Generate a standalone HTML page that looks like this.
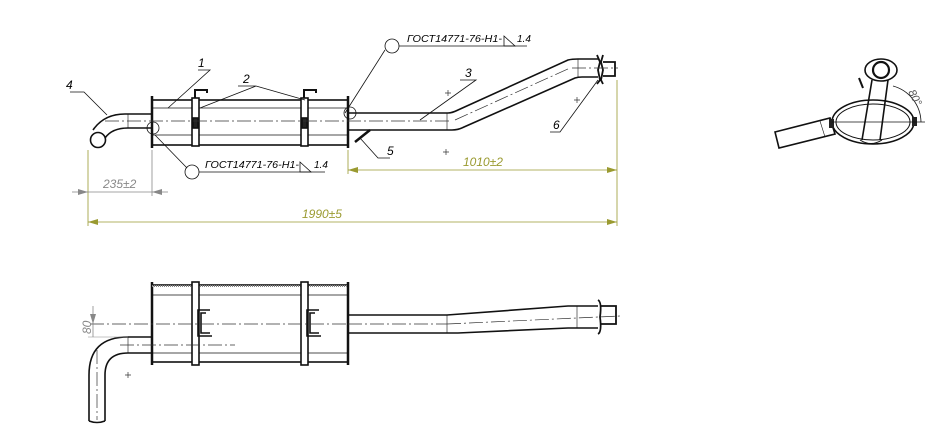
<!DOCTYPE html>
<html><head><style>html,body{margin:0;padding:0;background:#fff}svg{display:block}</style></head>
<body>
<svg width="952" height="439" viewBox="0 0 952 439" xmlns="http://www.w3.org/2000/svg" font-family="Liberation Sans, sans-serif">
<defs>
<marker id="ay" viewBox="0 0 10 6" refX="10" refY="3" markerWidth="10" markerHeight="6" orient="auto-start-reverse" markerUnits="userSpaceOnUse"><path d="M0 0 L10 3 L0 6 Z" fill="#9a9a30"/></marker>
<marker id="ag" viewBox="0 0 10 6" refX="10" refY="3" markerWidth="10" markerHeight="6" orient="auto-start-reverse" markerUnits="userSpaceOnUse"><path d="M0 0 L10 3 L0 6 Z" fill="#888"/></marker>
</defs>
<g fill="none" stroke="#111" stroke-width="1.6">
<!-- TOP VIEW muffler -->
<rect x="152" y="100" width="196" height="45"/>
<line x1="152" y1="96" x2="152" y2="148" stroke-width="2.5"/>
<line x1="348" y1="96" x2="348" y2="148" stroke-width="2.5"/>
<line x1="152" y1="108" x2="348" y2="108" stroke-width="0.8"/>
<line x1="152" y1="135" x2="348" y2="135" stroke-width="0.8"/>
<rect x="192" y="98" width="7" height="48" fill="#fff"/>
<rect x="301" y="98" width="7" height="48" fill="#fff"/>
<path d="M195 98 v-8 h12 v3" stroke-width="2"/>
<path d="M304 98 v-8 h12 v3" stroke-width="2"/>
<rect x="193" y="118" width="5" height="10" fill="#222"/>
<rect x="302" y="118" width="5" height="10" fill="#222"/>
<!-- pipe 4 -->
<path d="M152 114 H125 Q104 114 93 130"/>
<path d="M152 128 H128 Q112 128 105 138"/>
<line x1="128" y1="114" x2="128" y2="128" stroke-width="0.6"/>
<circle cx="98" cy="140" r="7.5"/>
<!-- pipe 3 -->
<path d="M348 113 H448 Q452 113 458 110 L568 60 Q572 59 578 59 H598"/>
<path d="M348 130 H452 Q458 130 464 127 L575 78 Q578 77 582 77 H598"/>
<line x1="447" y1="113" x2="447" y2="130" stroke-width="0.6"/>
<line x1="578" y1="59" x2="578" y2="77" stroke-width="0.6"/>
<path d="M597 55 L600 62 L598 70 L600 80 L597 84 M603 55 L601 62 L603 70 L601 80 L603 84" stroke-width="1.8"/>
<path d="M603 62 H615 V76 H603" stroke-width="1.8"/>
<line x1="355" y1="142" x2="370" y2="130" stroke-width="2.5"/>
<!-- BOTTOM VIEW -->
<rect x="152" y="285" width="196" height="77"/>
<line x1="152" y1="282" x2="152" y2="365" stroke-width="2.5"/>
<line x1="348" y1="282" x2="348" y2="365" stroke-width="2.5"/>
<line x1="152" y1="295" x2="348" y2="295" stroke-width="0.8"/>
<line x1="152" y1="353" x2="348" y2="353" stroke-width="0.8"/>
<line x1="152" y1="286" x2="348" y2="286" stroke="#888" stroke-width="2" stroke-dasharray="1 1"/>
<rect x="192" y="282" width="7" height="83" fill="#fff"/>
<rect x="301" y="282" width="7" height="83" fill="#fff"/>
<path d="M210 310 H198 V336 H212 M206 313 H201 V333 H210" stroke-width="1.6"/>
<path d="M319 310 H307 V336 H321 M315 313 H310 V333 H319" stroke-width="1.6"/>
<path d="M152 337 H128 Q89 337 89 375 V421"/>
<path d="M152 353 H128 Q105 353 105 375 V421"/>
<path d="M89 421 Q97 424 105 421"/>
<line x1="128" y1="337" x2="128" y2="353" stroke-width="0.6"/>
<path d="M348 315 H447 L568 306 H598"/>
<path d="M348 333 H458 L568 328 H598"/>
<line x1="447" y1="315" x2="447" y2="333" stroke-width="0.6"/>
<line x1="577" y1="306" x2="577" y2="328" stroke-width="0.6"/>
<path d="M598 300 Q602 302 600 317 Q602 332 598 334" stroke-width="1.8"/>
<path d="M600 306 H616 V324 H600" stroke-width="1.8"/>
<!-- SIDE VIEW -->
<ellipse cx="873" cy="122" rx="41" ry="22"/>
<ellipse cx="873" cy="122" rx="37" ry="18" stroke-width="1"/>
<path d="M775 132 L830 118 L835 134 L779 148 Z"/>
<line x1="820" y1="121" x2="825" y2="137" stroke-width="0.6"/>
<rect x="829" y="119" width="5" height="9" fill="#222" stroke="none"/>
<rect x="912" y="117" width="5" height="9" fill="#222" stroke="none"/>
<path d="M862 140 L872 80 M880 140 L888 80"/>
<path d="M860 140 Q871 147 882 140" stroke-width="1"/>
<ellipse cx="881" cy="70" rx="16" ry="11"/>
<circle cx="881" cy="70" r="8" stroke-width="2.2"/>
<path d="M863 88 L859 78" stroke-width="2"/>
<path d="M893 86 A38 38 0 0 1 921 122" stroke-width="0.8"/>
<line x1="832" y1="122" x2="925" y2="122" stroke-width="0.7"/>
</g>
<!-- centre lines -->
<g stroke="#333" stroke-width="0.7" fill="none" stroke-dasharray="14 3 2 3">
<line x1="105" y1="121" x2="450" y2="121"/>
<line x1="455" y1="120" x2="570" y2="68"/>
<line x1="572" y1="68" x2="618" y2="68"/>
<line x1="90" y1="324" x2="348" y2="324"/>
<line x1="120" y1="345" x2="235" y2="345"/>
<line x1="348" y1="324" x2="447" y2="324"/>
<line x1="447" y1="324" x2="620" y2="316"/>
<line x1="97" y1="350" x2="97" y2="420"/>
</g>
<!-- leaders -->
<g stroke="#111" stroke-width="0.8" fill="none">
<path d="M70 92 H84 L107 115"/>
<path d="M198 70 H210 L168 108"/>
<path d="M238 86 H256 L200 108 M256 86 L305 100"/>
<path d="M460 80 H476 L420 120"/>
<path d="M390 158 H378 L360 138"/>
<path d="M550 132 H560 L598 80"/>
<circle cx="392" cy="46" r="7"/>
<path d="M385 50 L345 113 M399 46 H527"/>
<circle cx="192" cy="172" r="7"/>
<path d="M187 168 L155 135 M199 172 H325"/>
<circle cx="153" cy="128" r="6"/>
<circle cx="350" cy="113" r="6"/>
<path d="M504 36 L515 46 H504 Z"/>
<path d="M300 162 L311 172 H300 Z"/>
</g>
<!-- dims -->
<g stroke="#9a9a30" stroke-width="0.8" fill="none">
<line x1="88" y1="150" x2="88" y2="226"/>
<line x1="617" y1="80" x2="617" y2="226"/>
<line x1="348" y1="150" x2="348" y2="174"/>
<line x1="88" y1="222" x2="617" y2="222" marker-start="url(#ay)" marker-end="url(#ay)"/>
<line x1="348" y1="170" x2="617" y2="170" marker-start="url(#ay)" marker-end="url(#ay)"/>
</g>
<g stroke="#888" stroke-width="0.8" fill="none">
<line x1="152" y1="150" x2="152" y2="196"/>
<line x1="72" y1="192" x2="88" y2="192" marker-end="url(#ag)"/>
<line x1="88" y1="192" x2="152" y2="192"/>
<line x1="168" y1="192" x2="152" y2="192" marker-end="url(#ag)"/>
<line x1="93" y1="306" x2="93" y2="324" marker-end="url(#ag)"/>
<line x1="93" y1="324" x2="93" y2="337"/>
<line x1="88" y1="337" x2="128" y2="337" stroke-width="0.5"/>
</g>
<g font-style="italic" font-size="12">
<text x="66" y="89">4</text>
<text x="198" y="67">1</text>
<text x="243" y="83">2</text>
<text x="465" y="77">3</text>
<text x="387" y="155">5</text>
<text x="553" y="129">6</text>
<text x="407" y="42" font-size="10" textLength="95" lengthAdjust="spacingAndGlyphs">ГОСТ14771-76-Н1-</text>
<text x="517" y="42" font-size="10">1.4</text>
<text x="205" y="168" font-size="10" textLength="94" lengthAdjust="spacingAndGlyphs">ГОСТ14771-76-Н1-</text>
<text x="314" y="168" font-size="10">1.4</text>
<text x="103" y="188" fill="#888">235±2</text>
<text x="302" y="218" fill="#9a9a30">1990±5</text>
<text x="463" y="166" fill="#9a9a30">1010±2</text>
<text x="91" y="334" fill="#888" transform="rotate(-90 91 334)">80</text>
<text x="908" y="92" fill="#555" font-size="11" transform="rotate(62 908 92)">80°</text>
</g>
<g stroke="#333" stroke-width="0.7">
<path d="M443 152 h6 M446 149 v6 M445 93 h6 M448 90 v6 M574 100 h6 M577 97 v6 M125 375 h6 M128 372 v6"/>
</g>
</svg>
</body></html>
